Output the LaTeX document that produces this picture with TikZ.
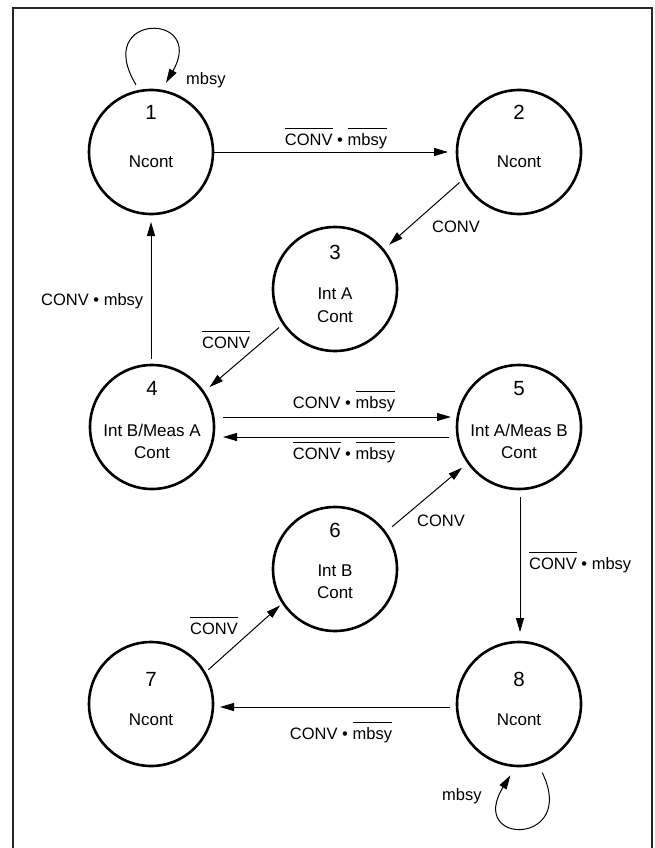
\documentclass[tikz,border=0pt]{standalone}
\usepackage{fontspec}
\setmainfont{Liberation Sans}
\usetikzlibrary{arrows.meta}
\newcommand{\cbar}[1]{\leavevmode\setbox0\hbox{#1}\rlap{\raise16pt\hbox{\rule{\wd0}{0.9pt}}}\box0\relax}
\begin{document}
\begin{tikzpicture}[x=1pt,y=-1pt,
  state/.style={circle,draw,line width=2.6pt,minimum size=124pt,inner sep=0pt,outer sep=0pt},
  num/.style={font=\fontsize{20.5}{24}\selectfont,anchor=base,inner sep=0pt},
  txt/.style={font=\fontsize{17}{20}\selectfont,anchor=base,inner sep=0pt},
  lbl/.style={font=\fontsize{16.5}{20}\selectfont,anchor=base west,inner sep=0pt},
  lblc/.style={font=\fontsize{16.5}{20}\selectfont,anchor=base,inner sep=0pt},
  edge/.style={-{Triangle[length=14pt,width=8pt]},line width=1pt}]
\useasboundingbox (0,0) rectangle (655,848);
\draw[line width=2pt,black!85] (13.3,870) -- (13.3,8.3) -- (652.3,8.3) -- (652.3,870);

% states
\node[state] (n1) at (151,152) {};
\node[state] (n2) at (519,152) {};
\node[state] (n3) at (335,289) {};
\node[state] (n4) at (152,427) {};
\node[state] (n5) at (519,427) {};
\node[state] (n6) at (335,569) {};
\node[state] (n7) at (151,704) {};
\node[state] (n8) at (519,704) {};

% state texts
\node[num] (t1) at (151,120) {1};
\node[txt] (t1b) at (151,167) {Ncont};
\node[num] (t2) at (519,120) {2};
\node[txt] (t2b) at (519,167) {Ncont};
\node[num] (t3) at (335,259) {3};
\node[txt] (t3b) at (335,299) {Int A};
\node[txt] (t3c) at (335,322) {Cont};
\node[num] (t4) at (152,395) {4};
\node[txt] (t4b) at (152,436) {Int B/Meas A};
\node[txt] (t4c) at (152,458) {Cont};
\node[num] (t5) at (519,395) {5};
\node[txt] (t5b) at (519,436) {Int A/Meas B};
\node[txt] (t5c) at (519,458) {Cont};
\node[num] (t6) at (335,537) {6};
\node[txt] (t6b) at (335,576) {Int B};
\node[txt] (t6c) at (335,598) {Cont};
\node[num] (t7) at (151,686) {7};
\node[txt] (t7b) at (151,725) {Ncont};
\node[num] (t8) at (519,686) {8};
\node[txt] (t8b) at (519,725) {Ncont};

% connectors
\draw[edge,shorten >=9pt] (n1.east) -- (n2.west);
\draw[edge,shorten <=5pt,shorten >=8pt] (n2.206) -- (n3.39);
\draw[edge,shorten <=6pt,shorten >=8pt] (n3.214) -- (n4.34);
\draw[edge,shorten <=6pt,shorten >=8pt] ([xshift=-1pt]n4.north) -- (n1.south);
\draw[edge,shorten <=9pt,shorten >=6pt] ([yshift=10pt]n4.east) -- ([yshift=10pt]n5.west);
\draw[edge,shorten <=8pt,shorten >=9pt] ([yshift=-10pt]n5.west) -- ([yshift=-10pt]n4.east);
\draw[edge,shorten <=9pt,shorten >=8pt] (n6.36) -- (n5.215);
\draw[edge,shorten <=8pt,shorten >=10pt] ([xshift=1pt]n5.south) -- ([xshift=1pt]n8.north);
\draw[edge,shorten <=5pt,shorten >=4pt] (n7.30) -- (n6.213);
\draw[edge,shorten <=7pt,shorten >=7pt] ([yshift=-3pt]n8.west) -- ([yshift=-3pt]n7.east);
\draw[edge] ([yshift=7pt]n1.104) .. controls +(-44,-73) and +(41,-71) .. ([yshift=9pt]n1.76);
\draw[edge] ([xshift=3pt,yshift=-10pt]n8.289) .. controls +(36,73) and +(-44,71) .. ([yshift=-10pt]n8.262);

% connector labels
\node[lblc] (l12) at (336,145) {\cbar{CONV} • \cbar{mbsy}};
\node[lbl] (l23) at (432,232) {CONV};
\node[lbl] (l34) at (202,348) {\cbar{CONV}};
\node[lbl] (l41) at (41,305) {CONV • mbsy};
\node[lblc] (l45) at (344,408) {CONV • \cbar{mbsy}};
\node[lblc] (l54) at (344,459) {\cbar{CONV} • \cbar{mbsy}};
\node[lbl] (l65) at (417,526) {CONV};
\node[lbl] (l58) at (529,569) {\cbar{CONV} • mbsy};
\node[lbl] (l76) at (190,634) {\cbar{CONV}};
\node[lblc] (l87) at (341,739) {CONV • \cbar{mbsy}};
\node[lbl] (l11) at (186,85) {mbsy};
\node[lbl] (l88) at (442,800) {mbsy};
\end{tikzpicture}
\end{document}
